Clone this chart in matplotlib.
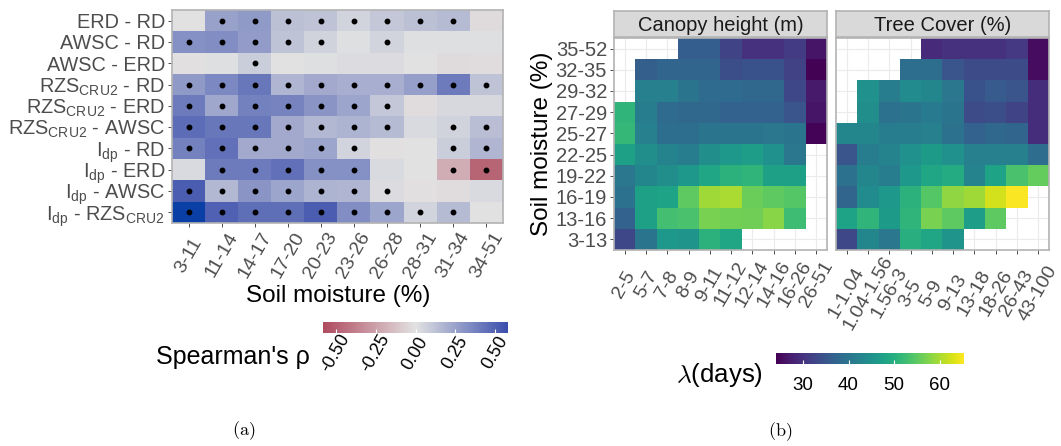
import numpy as np
import matplotlib
matplotlib.use("Agg")
import matplotlib.pyplot as plt
from matplotlib.colors import LinearSegmentedColormap, Normalize
import matplotlib.cm as cm

plt.rcParams['font.family'] = ['Liberation Sans', 'DejaVu Sans']
plt.rcParams['mathtext.fontset'] = 'custom'
plt.rcParams['mathtext.rm'] = 'Liberation Sans'
plt.rcParams['mathtext.it'] = 'Liberation Sans:italic'

# ---------------- data: panel (a) ----------------
pair_labels = ["ERD - RD", "AWSC - RD", "AWSC - ERD",
               r"RZS$_{\rm CRU2}$ - RD", r"RZS$_{\rm CRU2}$ - ERD", r"RZS$_{\rm CRU2}$ - AWSC",
               r"I$_{\rm dp}$ - RD", r"I$_{\rm dp}$ - ERD", r"I$_{\rm dp}$ - AWSC",
               r"I$_{\rm dp}$ - RZS$_{\rm CRU2}$"]
sm_bins_a = ["3-11", "11-14", "14-17", "17-20", "20-23", "23-26", "26-28", "28-31", "31-34", "34-51"]
rho = [
    [0.00, 0.25, 0.28, 0.13, 0.12, 0.05, 0.10, 0.13, 0.15, -0.03],
    [0.32, 0.33, 0.27, 0.12, 0.06, 0.01, 0.05, 0.01, 0.01, 0.01],
    [-0.01, 0.01, 0.08, 0.00, 0.01, 0.02, 0.02, 0.00, -0.03, -0.02],
    [0.28, 0.35, 0.42, 0.17, 0.22, 0.20, 0.20, 0.26, 0.40, 0.12],
    [0.40, 0.23, 0.38, 0.37, 0.30, 0.24, 0.10, -0.02, 0.04, 0.04],
    [0.46, 0.42, 0.42, 0.22, 0.16, 0.18, 0.15, 0.03, 0.06, 0.14],
    [0.38, 0.44, 0.22, 0.22, 0.24, 0.05, -0.01, 0.00, 0.08, 0.17],
    [0.03, 0.40, 0.40, 0.44, 0.32, 0.32, 0.03, 0.00, -0.20, -0.48],
    [0.52, 0.16, 0.30, 0.24, 0.18, 0.17, 0.02, -0.01, -0.02, 0.03],
    [0.70, 0.50, 0.45, 0.45, 0.52, 0.33, 0.24, 0.05, 0.15, 0.00],
]
signif = [
    [0, 1, 1, 1, 1, 1, 1, 1, 1, 0],
    [1, 1, 1, 1, 1, 0, 1, 0, 0, 0],
    [0, 0, 1, 0, 0, 0, 0, 0, 0, 0],
    [1, 1, 1, 1, 1, 1, 1, 1, 1, 1],
    [1, 1, 1, 1, 1, 1, 1, 0, 0, 0],
    [1, 1, 1, 1, 1, 1, 1, 0, 1, 1],
    [1, 1, 1, 1, 1, 1, 0, 0, 1, 1],
    [0, 1, 1, 1, 1, 1, 0, 0, 1, 1],
    [1, 1, 1, 1, 1, 1, 1, 0, 0, 0],
    [1, 1, 1, 1, 1, 1, 1, 1, 1, 0],
]
rho_ticks = [-0.50, -0.25, 0.00, 0.25, 0.50]

# ---------------- data: panel (b) ----------------
sm_bins_b = ["3-13", "13-16", "16-19", "19-22", "22-25", "25-27", "27-29", "29-32", "32-35", "35-52"]
canopy_bins = ["2-5", "5-7", "7-8", "8-9", "9-11", "11-12", "12-14", "14-16", "16-26", "26-51"]
tree_bins = ["1-1.04", "1.04-1.56", "1.56-3", "3-5", "5-9", "9-13", "13-18", "18-26", "26-43", "43-100"]
nan = np.nan
lam_canopy = [
    [33, 40, 46, 45.5, 50.5, 48.5, nan, nan, nan, nan],
    [37, 47.5, 53, 53.5, 57, 56.5, 56.3, 58, 52.5, nan],
    [39.5, 47.5, 48, 55, 59.5, 60, 56, 55, 54.5, nan],
    [40.5, 43, 44.5, 46, 48.5, 50.5, 51, 47.5, 47.5, nan],
    [47.5, 44.5, 42.5, 41.5, 44.5, 46, 47, 45, 40.5, nan],
    [51.5, 42, 39, 39, 40, 40, 40, 40.5, 40, 24.5],
    [51, 41.5, 38.5, 38, 38, 37, 37, 37, 35, 26.5],
    [nan, 42, 42, 40, 38.5, 38.5, 38, 38, 33, 27],
    [nan, 36.5, 37.5, 37.5, 37.5, 34, 34.5, 34.5, 32, 24.3],
    [nan, nan, nan, 36.4, 36.4, 32.5, 30, 30, 31.5, 26.5],
]
lam_tree = [
    [33, 43, 40.5, 50, 48.5, 45.5, nan, nan, nan, nan],
    [48, 51, 46.5, 51, 57, 55, 47, 55, nan, nan],
    [37.5, 44, 46, 50.5, 54.5, 58.5, 59.5, 62.5, 65, nan],
    [39.5, 43, 41.5, 46, 48.5, 49.5, 42.5, 48, 53.5, 55.5],
    [35, 41.5, 42.5, 45, 46.5, 45, 42, 42, 42, 38.8],
    [43, 43, 41.5, 41.5, 42, 39.5, 37, 38, 37.5, 29.5],
    [nan, 44.5, 39.5, 40, 41, 40, 33.5, 34, 32.5, 29.5],
    [nan, 45, 41.5, 44, 43, 40.5, 34.5, 36, 35, 29.5],
    [nan, nan, nan, 39, 39, 35, 33.5, 33.5, 33.5, 25.5],
    [nan, nan, nan, nan, 29, 30, 30, 30, 31, 25.5],
]
lam_ticks = [30, 40, 50, 60]
facet_titles = ["Canopy height (m)", "Tree Cover (%)"]

# ---------------- figure ----------------
W, H = 1061, 446
fig = plt.figure(figsize=(W / 100, H / 100), dpi=100)

def px_axes(x0, y0, x1, y1, **kw):
    return fig.add_axes([x0 / W, 1 - y1 / H, (x1 - x0) / W, (y1 - y0) / H], **kw)

GRAY30 = '#4D4D4D'
BORDER = '#B3B3B3'
PX = 72 / 100  # points per pixel

# ---------- panel (a) ----------
sp_cmap = LinearSegmentedColormap.from_list(
    'sp', [(0.0, '#AF4A5F'), (0.5, '#E2E2E2'), (1.0, '#3A4EAC')])
sp_cmap.set_over('#0A40A6')
sp_norm = Normalize(-0.58, 0.58)

axa = px_axes(172, 10, 503, 223)
rho_arr = np.array(rho)
axa.imshow(rho_arr, cmap=sp_cmap, norm=sp_norm, aspect='auto',
           interpolation='nearest', origin='upper')
sig = np.array(signif)
yy, xx = np.nonzero(sig)
axa.plot(xx, yy, 'o', color='black', markersize=3.2, linestyle='none')
axa.set_xticks(range(len(sm_bins_a)))
axa.set_xticklabels(sm_bins_a, rotation=60, ha='center', va='center',
                    fontsize=14, color=GRAY30)
axa.set_yticks(range(len(pair_labels)))
axa.set_yticklabels(pair_labels, fontsize=14.3, color=GRAY30)
axa.tick_params(axis='both', length=3, color=GRAY30, width=0.7)
axa.tick_params(axis='y', pad=2)
axa.tick_params(axis='x', pad=28 * PX)
axa.set_xlim(-0.5, len(sm_bins_a) - 0.5)
axa.set_ylim(len(pair_labels) - 0.5, -0.5)
for s in axa.spines.values():
    s.set_color(BORDER)
    s.set_linewidth(1.2)
fig.text(338 / W, 1 - 296 / H, "Soil moisture (%)", ha='center', va='center',
         fontsize=17.5, color='black')

cba = px_axes(323, 322, 508, 333)
sm_a = cm.ScalarMappable(norm=sp_norm, cmap=sp_cmap)
cb1 = fig.colorbar(sm_a, cax=cba, orientation='horizontal', ticks=rho_ticks)
cb1.outline.set_visible(False)
cba.set_xticklabels([f"{t:.2f}" for t in rho_ticks], rotation=60, ha='center',
                    va='center', fontsize=13, color='black')
cba.tick_params(axis='x', direction='in', color='white', length=3, width=0.8,
                pad=20 * PX)
fig.text(233 / W, 1 - 357 / H, "Spearman's ρ", ha='center', va='center',
         fontsize=18, color='black')
fig.text(244 / W, 1 - 431 / H, r"$\mathrm{(a)}$", ha='center', va='center',
         fontsize=13, math_fontfamily='cm')

# ---------- panel (b) ----------
vir = plt.get_cmap('viridis').copy()
vir.set_bad((1, 1, 1, 0))
lam_norm = Normalize(24.1, 65.3)

facet_x = [(614, 827), (836, 1049)]
facet_data = [lam_canopy, lam_tree]
facet_xlabels = [canopy_bins, tree_bins]
facet_pad = [30, 39]
for i in range(2):
    x0, x1 = facet_x[i]
    ax = px_axes(x0, 38, x1, 250)
    ax.set_axisbelow(True)
    ax.grid(True, color='#EBEBEB', linewidth=0.8)
    arr = np.ma.masked_invalid(np.array(facet_data[i], dtype=float))
    ax.imshow(arr, cmap=vir, norm=lam_norm, aspect='auto', origin='lower',
              interpolation='nearest', zorder=2)
    ax.set_xlim(-0.5, 9.5)
    ax.set_ylim(-0.5, 9.5)
    ax.set_xticks(range(len(facet_xlabels[i])))
    ax.set_xticklabels(facet_xlabels[i], rotation=60, ha='center', va='center',
                       fontsize=14, color=GRAY30)
    ax.set_yticks(range(len(sm_bins_b)))
    if i == 0:
        ax.set_yticklabels(sm_bins_b, fontsize=14.5, color=GRAY30)
        ax.set_ylabel("Soil moisture (%)", fontsize=17.5, color='black', labelpad=2)
    else:
        ax.set_yticklabels([])
        ax.tick_params(axis='y', length=0)
    ax.tick_params(axis='x', length=3, color=GRAY30, width=0.7,
                   pad=facet_pad[i] * PX)
    if i == 0:
        ax.tick_params(axis='y', length=3, color=GRAY30, width=0.7, pad=2)
    for s in ax.spines.values():
        s.set_color(BORDER)
        s.set_linewidth(1.2)
    st = px_axes(x0, 11, x1, 37)
    st.set_facecolor('#D9D9D9')
    st.set_xticks([])
    st.set_yticks([])
    for s in st.spines.values():
        s.set_color(BORDER)
        s.set_linewidth(1.2)
    st.text(0.5, 0.45, facet_titles[i], ha='center', va='center',
            fontsize=14.5, color='#1A1A1A', transform=st.transAxes)

cbb = px_axes(776, 353, 964, 364)
sm_b = cm.ScalarMappable(norm=lam_norm, cmap='viridis')
cb2 = fig.colorbar(sm_b, cax=cbb, orientation='horizontal', ticks=lam_ticks)
cb2.outline.set_visible(False)
cbb.set_xticklabels([str(t) for t in lam_ticks], fontsize=13.5, color='black')
cbb.tick_params(axis='x', direction='in', color='white', length=3, width=0.8, pad=9)
fig.text(719 / W, 1 - 375 / H, r"$\lambda$(days)", ha='center', va='center',
         fontsize=18.5, color='black', math_fontfamily='cm')
fig.text(780 / W, 1 - 432 / H, r"$\mathrm{(b)}$", ha='center', va='center',
         fontsize=13, math_fontfamily='cm')

fig.savefig("out.png", dpi=100)
